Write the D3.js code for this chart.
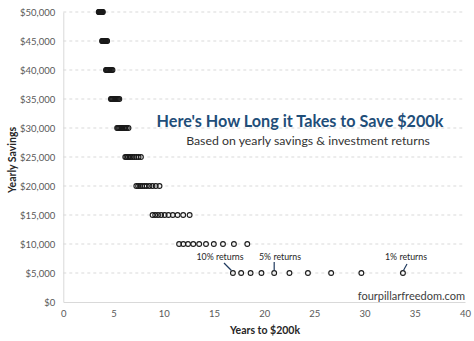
<!DOCTYPE html>
<html><head><meta charset="utf-8">
<script src="https://cdn.jsdelivr.net/npm/d3@7"></script>
<style>body{margin:0;background:#fff}svg{display:block}text{font-family:Lato,"Open Sans",sans-serif}</style>
</head><body><svg id="c" width="474" height="341"></svg>
<script>
const savings = [5000,10000,15000,20000,25000,30000,35000,40000,45000,50000];
const returns = ["1%","2%","3%","4%","5%","6%","7%","8%","9%","10%"];
// years to $200k per savings level, for returns 1%..10%
const years5k  = [33.82,29.68,26.67,24.36,22.52,21.00,19.73,18.65,17.71,16.89];
const years10k = [18.32,16.99,15.90,14.99,14.21,13.53,12.94,12.42,11.95,11.53];
const years15k = [12.58,11.94,11.38,10.90,10.47,10.09,9.74,9.43,9.15,8.89];
const years20k = [9.58,9.21,8.88,8.58,8.31,8.07,7.84,7.64,7.45,7.27];
const years25k = [7.73,7.49,7.28,7.08,6.90,6.73,6.57,6.43,6.29,6.17];
const years30k = [6.49,6.32,6.17,6.03,5.90,5.77,5.66,5.55,5.45,5.36];
const years35k = [5.58,5.46,5.35,5.25,5.15,5.06,4.97,4.89,4.81,4.74];
const years40k = [4.90,4.81,4.73,4.65,4.57,4.50,4.44,4.37,4.31,4.25];
const years45k = [4.37,4.30,4.23,4.17,4.11,4.06,4.00,3.95,3.90,3.86];
const years50k = [3.94,3.89,3.83,3.78,3.74,3.69,3.65,3.61,3.57,3.53];
const allYears = [years5k,years10k,years15k,years20k,years25k,years30k,years35k,years40k,years45k,years50k];
const xTicks = [0,5,10,15,20,25,30,35,40];
const yTicks = [0,5000,10000,15000,20000,25000,30000,35000,40000,45000,50000];
const notes = ["10% returns","5% returns","1% returns"];

const svg = d3.select("#c");
const x = d3.scaleLinear().domain([0,40]).range([63.3,465]);
const y = d3.scaleLinear().domain([0,50000]).range([302,12]);

// gridlines
svg.append("g").selectAll("line").data(yTicks.slice(1)).join("line")
  .attr("x1",x(0)).attr("x2",x(40)).attr("y1",d=>y(d)).attr("y2",d=>y(d))
  .attr("stroke","#d9d9d9").attr("stroke-width",1).attr("stroke-dasharray","3,3");

// axes
const fmt = d3.format("$,");
const ya = svg.append("g").attr("transform",`translate(${x(0)},0)`)
  .call(d3.axisLeft(y).tickValues(yTicks).tickFormat(d=>fmt(d)).tickSize(0).tickPadding(8));
ya.select(".domain").attr("stroke","#d9d9d9");
ya.selectAll("text").attr("fill","#595959").style("font-size","9.5px");
const xa = svg.append("g").attr("transform",`translate(0,${y(0)})`)
  .call(d3.axisBottom(x).tickValues(xTicks).tickSize(0).tickPadding(8));
xa.select(".domain").attr("stroke","#d9d9d9");
xa.selectAll("text").attr("fill","#595959").style("font-size","9.5px");

// points
const pts = [];
savings.forEach((s,i)=>allYears[i].forEach((v,j)=>pts.push({s, v, r:returns[j]})));
svg.append("g").selectAll("circle").data(pts).join("circle")
  .attr("cx",d=>x(d.v)).attr("cy",d=>y(d.s)).attr("r",2.4)
  .attr("fill","none").attr("stroke","#1a1a1a").attr("stroke-width",1.1);

// annotations
const ann = svg.append("g");
const n10 = x(years5k[9]), n5 = x(years5k[5]), n1 = x(years5k[0]), ny = y(5000);
ann.append("text").attr("x",220).attr("y",260).attr("text-anchor","middle").text(notes[0]);
ann.append("line").attr("x1",224).attr("y1",263).attr("x2",n10-1.5).attr("y2",ny-2.5);
ann.append("text").attr("x",280).attr("y",260).attr("text-anchor","middle").text(notes[1]);
ann.append("line").attr("x1",n5).attr("y1",262).attr("x2",n5).attr("y2",ny-2.5);
ann.append("text").attr("x",406).attr("y",260).attr("text-anchor","middle").text(notes[2]);
ann.append("line").attr("x1",407).attr("y1",264).attr("x2",n1+0.5).attr("y2",ny-2.5);
ann.selectAll("text").attr("fill","#262626").style("font-size","8.8px");
ann.selectAll("line").attr("stroke","#1f3a5f").attr("stroke-width",1.2);

// titles
svg.append("text").attr("x",300).attr("y",127).attr("text-anchor","middle")
  .attr("fill","#1f4e79").style("font-size","16.2px").style("font-weight","bold")
  .text("Here's How Long it Takes to Save $200k");
svg.append("text").attr("x",308).attr("y",145).attr("text-anchor","middle")
  .attr("fill","#333").style("font-size","12.3px")
  .text("Based on yearly savings & investment returns");
svg.append("text").attr("transform","translate(16,160) rotate(-90)").attr("text-anchor","middle")
  .attr("fill","#262626").style("font-size","10.5px").style("font-weight","bold").text("Yearly Savings");
svg.append("text").attr("x",265).attr("y",334).attr("text-anchor","middle")
  .attr("fill","#262626").style("font-size","10.5px").style("font-weight","bold").text("Years to $200k");
svg.append("text").attr("x",465).attr("y",300).attr("text-anchor","end")
  .attr("fill","#404040").style("font-size","11px").text("fourpillarfreedom.com");
</script></body></html>
